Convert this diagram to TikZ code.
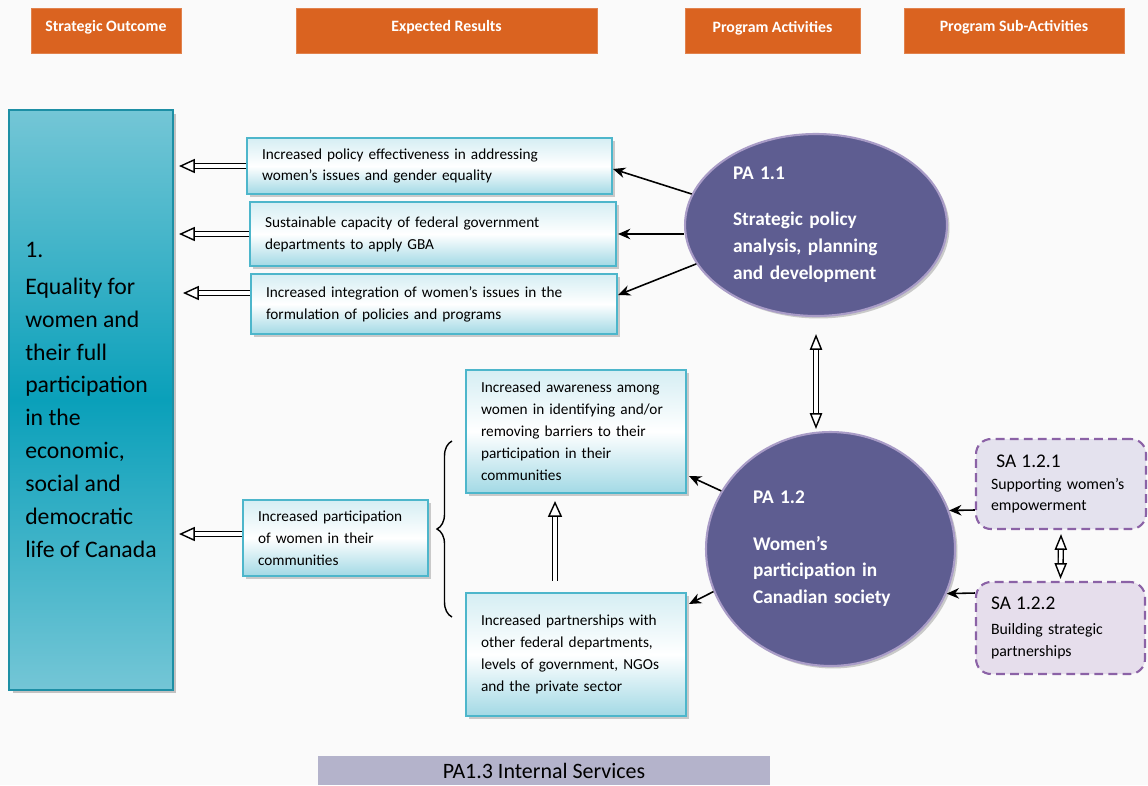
\documentclass[tikz,border=0pt]{standalone}
\usepackage{fontspec}
\setmainfont{Carlito}
\usetikzlibrary{shapes.geometric,arrows.meta,shadows,decorations.pathreplacing,positioning}

\definecolor{pagebg}{HTML}{FAFAFA}
\definecolor{hdrorange}{HTML}{DA6320}
\definecolor{tealedge}{HTML}{1D8FA5}
\definecolor{teallight}{HTML}{74C6D6}
\definecolor{tealdark}{HTML}{0AA0BA}
\definecolor{resedge}{HTML}{4DB6CB}
\definecolor{resbottom}{HTML}{A2D9E5}
\definecolor{pafill}{HTML}{5E5D91}
\definecolor{paedge}{HTML}{A99CC7}
\definecolor{saedge}{HTML}{8B62A6}
\definecolor{safill}{HTML}{E4E2EE}
\definecolor{safilltwo}{HTML}{E6DEEC}
\definecolor{barfill}{HTML}{B4B3CB}

\tikzset{
  hdr/.style={fill=hdrorange, draw=hdrorange!80!white, text=white, inner sep=0pt,
    minimum height=0.9cm, text height=0.42cm, text depth=0.38cm,
    font=\fontsize{9}{11}\selectfont\bfseries},
  outcome/.style={draw=tealedge, line width=1.2pt, shading=axis, top color=teallight,
    bottom color=teallight, middle color=tealdark, align=left,
    minimum width=3.28cm, minimum height=11.6cm,
    drop shadow={shadow xshift=0.07cm, shadow yshift=-0.07cm, fill=black!45},
    font=\fontsize{13.5}{18.7}\selectfont},
  res/.style={draw=resedge, line width=1.2pt, shading=axis, top color=resbottom!45,
    bottom color=resbottom, middle color=white, align=left, inner xsep=0.3cm,
    drop shadow={shadow xshift=0.06cm, shadow yshift=-0.06cm, fill=black!40},
    font=\fontsize{8.7}{12.5}\selectfont},
  pa/.style={ellipse, fill=pafill, draw=paedge, line width=1.2pt, inner sep=0pt,
    text=white, align=left,
    drop shadow={shadow xshift=0.05cm, shadow yshift=-0.05cm, fill=black!40},
    font=\fontsize{11}{15.3}\selectfont\bfseries},
  subact/.style={rounded corners=0.3cm, draw=saedge, dashed, dash pattern=on 5pt off 3pt,
    line width=1.2pt, align=left, inner xsep=0.3cm,
    font=\fontsize{9}{12.5}\selectfont},
  arr/.style={-{Stealth[length=7pt,width=6pt]}, line width=0.9pt},
  hollow/.style={double=white, double distance=2pt, line width=0.8pt,
    -{Triangle[open, fill=white, length=9pt, width=8pt]}},
  hollowboth/.style={double=white, double distance=2pt, line width=0.8pt,
    {Triangle[open, fill=white, length=9pt, width=7pt]}-{Triangle[open, fill=white, length=9pt, width=7pt]}},
  brace/.style={decorate, decoration={brace, amplitude=0.3cm}, line width=0.8pt}
}

\begin{document}
\begin{tikzpicture}[x=0.02cm, y=-0.02cm]
  \fill[pagebg] (0,0) rectangle (1148,785);
  \useasboundingbox (0,0) rectangle (1148,785);

  % column headers
  \node[hdr, minimum width=3cm] (hso) at (106,30.5) {Strategic Outcome};
  \node[hdr, minimum width=6.02cm] (hres) at (446.5,30.5) {Expected Results};
  \node[hdr, minimum width=3.5cm] (hpa) at (772.5,31) {Program Activities};
  \node[hdr, minimum width=4.4cm] (hsa) at (1014,30.5) {Program Sub-Activities};

  % strategic outcome
  \node[outcome] (so) at (91,400) {1.\\[2pt] Equality for\\women and\\their full\\participation\\in the\\economic,\\social and\\democratic\\life of Canada};

  % expected results
  \node[res, text width=6.7cm, minimum height=1.12cm] (r1) at (429.5,166)
    {Increased policy effectiveness in addressing\\women’s issues and gender equality};
  \node[res, text width=6.72cm, minimum height=1.28cm] (r2) at (433,234)
    {Sustainable capacity of federal government\\departments to apply GBA};
  \node[res, text width=6.72cm, minimum height=1.2cm] (r3) at (434,304)
    {Increased integration of women’s issues in the\\formulation of policies and programs};
  \node[res, text width=3.1cm, minimum height=1.52cm] (r4) at (335.5,538)
    {Increased participation\\of women in their\\communities};
  \node[res, text width=3.8cm, minimum height=2.46cm] (r5) at (576,431.5)
    {Increased awareness among\\women in identifying and/or\\removing barriers to their\\participation in their\\communities};
  \node[res, text width=3.8cm, minimum height=2.46cm] (r6) at (576,654.5)
    {Increased partnerships with\\other federal departments,\\levels of government, NGOs\\and the private sector\\[10pt]};

  % program activities
  \node[pa, minimum width=5.24cm, minimum height=3.64cm, text width=3.32cm] (pa11) at (816,225)
    {PA 1.1\\[11pt] Strategic policy\\analysis, planning\\and development};
  \node[pa, minimum width=4.98cm, minimum height=4.68cm, text width=3.1cm] (pa12) at (830.5,549)
    {PA 1.2\\[11pt] Women’s\\participation in\\Canadian society};

  % sub-activities
  \node[subact, fill=safill, minimum width=3.4cm, minimum height=1.8cm, text width=2.8cm] (sa1) at (1061,484)
    {{\fontsize{11}{13}\selectfont\ SA 1.2.1}\\Supporting women’s\\empowerment};
  \node[subact, fill=safilltwo, minimum width=3.38cm, minimum height=1.84cm, text width=2.78cm] (sa2) at (1060.5,628)
    {{\fontsize{11}{13}\selectfont SA 1.2.2}\\[2pt]Building strategic\\partnerships};

  % internal services
  \node[fill=barfill, minimum width=9.04cm, minimum height=0.58cm, inner sep=0pt,
    font=\fontsize{12.5}{14}\selectfont] (pa13) at (544,770.5) {PA1.3 Internal Services};

  % brace
  \coordinate (brbot) at (452,617);
  \coordinate (brtop) at (452,441);
  \draw[brace] (brbot) -- (brtop);

  % results to outcome
  \draw[hollow] (r1.west) -- ([xshift=0.1cm]so.east |- r1.west);
  \draw[hollow] (r2.west) -- ([xshift=0.1cm]so.east |- r2.west);
  \draw[hollow] ([yshift=0.22cm]r3.west) -- ([xshift=0.18cm,yshift=0.22cm]so.east |- r3.west);
  \draw[hollow] ([yshift=0.08cm]r4.west) -- ([xshift=0.1cm,yshift=0.08cm]so.east |- r4.west);
  \draw[hollow] ([xshift=-0.42cm,yshift=0.22cm]r6.north) -- ([xshift=-0.42cm,yshift=-0.14cm]r5.south);

  % activities to results
  \draw[arr] (pa11.166) -- ([yshift=-0.06cm]r1.east);
  \draw[arr] (pa11.west |- r2.east) -- ([xshift=0.02cm]r2.east);
  \draw[arr] (pa11.198) -- ([yshift=0.18cm]r3.east);
  \draw[arr] (pa12.152) -- ([xshift=0.04cm,yshift=0.36cm]r5.south east);
  \draw[arr] (pa12.200) -- ([xshift=0.04cm,yshift=-0.24cm]r6.north east);
  \draw[hollowboth] ([yshift=-0.34cm]pa11.south) -- ([yshift=0.04cm]pa11.south |- pa12.north);

  % sub-activities to activity
  \draw[arr] ([yshift=-0.52cm]sa1.west) -- (pa12.18);
  \draw[arr] ([yshift=0.7cm]sa2.west) -- (pa12.-21);
  \draw[hollowboth] ([yshift=-0.08cm]sa1.south) -- ([yshift=0.04cm]sa2.north);
\end{tikzpicture}
\end{document}
